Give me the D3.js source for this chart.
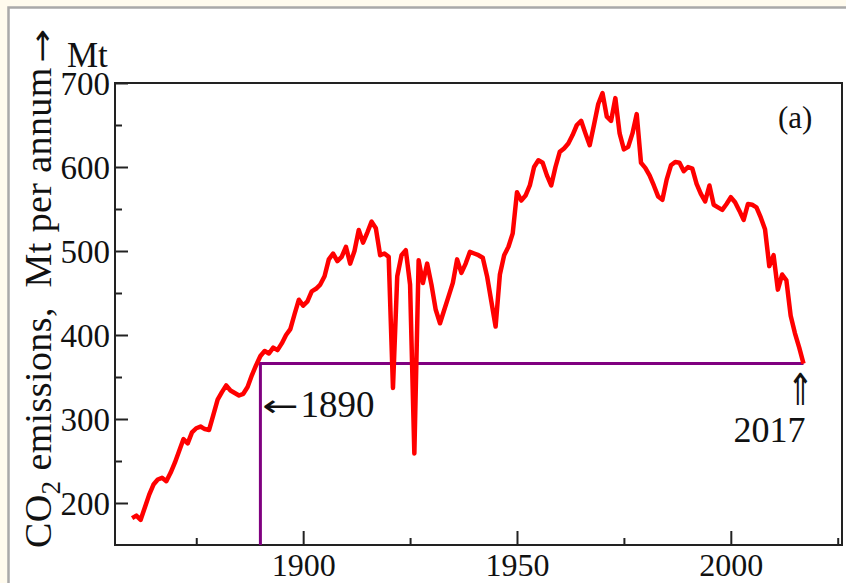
<!DOCTYPE html>
<html lang="en">
    <head>
        <meta charset="utf-8">
        <title>CO2 emissions</title>
        <script src="https://cdn.jsdelivr.net/npm/d3@7/dist/d3.min.js" charset="utf-8"></script>
        <style type="text/css">
            html, body { margin: 0; padding: 0; background: #fffbee; }
            #chart { width: 846px; height: 583px; }
            text { font-family: "Liberation Serif", "Times New Roman", serif; fill: #111; }
            .arrow { font-family: "DejaVu Sans", sans-serif; }
        </style>
    </head>
    <body>
        <div id="chart"></div>
        <script>
            // Data (Mt CO2 per year)
            var years = d3.range(1860, 2018);
            var emissions = [
                182, 185, 180, 195, 210, 222, 228, 230, 226, 236,   // 1860s
                248, 262, 276, 271, 284, 289, 291, 288, 287, 305,   // 1870s
                323, 332, 340, 334, 331, 328, 330, 338, 352, 364,   // 1880s
                375, 381, 378, 385, 382, 390, 400, 407, 425, 442,   // 1890s
                435, 440, 452, 455, 460, 470, 490, 497, 488, 493,   // 1900s
                505, 485, 500, 525, 510, 522, 535, 527, 495, 497,   // 1910s
                493, 337, 470, 495, 501, 460, 259, 489, 462, 485,   // 1920s
                460, 430, 414, 430, 446, 462, 490, 474, 485, 499,   // 1930s
                497, 495, 492, 470, 440, 410, 472, 495, 505, 521,   // 1940s
                570, 560, 566, 578, 600, 608, 605, 590, 578, 600,   // 1950s
                618, 622, 628, 638, 650, 655, 640, 626, 650, 675,   // 1960s
                688, 660, 655, 682, 640, 621, 624, 640, 663, 605,   // 1970s
                599, 590, 578, 565, 561, 585, 602, 606, 605, 595,   // 1980s
                600, 598, 580, 568, 559, 578, 555, 552, 549, 556,   // 1990s
                564, 558, 548, 537, 556, 555, 552, 540, 526, 482,   // 2000s
                495, 454, 472, 465, 423, 402, 385, 366              // 2010s
            ];
            var refYears = [1890, 2017];
            var refValue = 366;
            var xTicks = [1875, 1900, 1925, 1950, 1975, 2000, 2025];
            var xLabels = [1900, 1950, 2000];
            var yTicks = [200, 250, 300, 350, 400, 450, 500, 550, 600, 650, 700];
            var yLabels = [200, 300, 400, 500, 600, 700];

            var data = years.map(function(d, i) { return {year: d, value: emissions[i]}; });

            var W = 846, H = 583;
            var svg = d3.select("#chart").append("svg")
                .attr("width", W)
                .attr("height", H);

            // panel (white with grey top/left edge)
            svg.append("rect").attr("x", 9).attr("y", 8).attr("width", W).attr("height", H)
                .attr("fill", "#fff");
            svg.append("path").attr("d", "M8.5," + H + "V7.5H" + W)
                .attr("fill", "none").attr("stroke", "#a9a9a9").attr("stroke-width", 2.5);

            var plot = {left: 115, right: 842, top: 83, bottom: 545};

            var x = d3.scaleLinear().domain([1856, 2026]).range([plot.left, plot.right]);
            var y = d3.scaleLinear().domain([150, 700]).range([plot.bottom, plot.top]);

            // frame
            svg.append("rect")
                .attr("x", plot.left).attr("y", plot.top)
                .attr("width", plot.right - plot.left).attr("height", plot.bottom - plot.top)
                .attr("fill", "none").attr("stroke", "#222").attr("stroke-width", 2);

            // Eje x
            var xAxis = d3.axisBottom(x)
                .tickValues(xTicks)
                .tickSize(0)
                .tickFormat("");
            var gx = svg.append("g")
                .attr("transform", "translate(0," + plot.bottom + ")")
                .call(xAxis);
            gx.select(".domain").remove();
            gx.selectAll(".tick line")
                .attr("y2", function(d) { return xLabels.indexOf(d) >= 0 ? -14 : -7; })
                .attr("stroke", "#222").attr("stroke-width", 2);
            gx.selectAll(".tick").filter(function(d) { return xLabels.indexOf(d) >= 0; })
                .append("text")
                .attr("y", 31)
                .attr("text-anchor", "middle")
                .style("font-size", "32px")
                .text(function(d) { return d; });

            // Eje y
            var yAxis = d3.axisLeft(y)
                .tickValues(yTicks)
                .tickSize(0)
                .tickFormat("");
            var gy = svg.append("g")
                .attr("transform", "translate(" + plot.left + ",0)")
                .call(yAxis);
            gy.select(".domain").remove();
            gy.selectAll(".tick line")
                .attr("x2", function(d) { return yLabels.indexOf(d) >= 0 ? 13 : 7; })
                .attr("stroke", "#222").attr("stroke-width", 2);
            gy.selectAll(".tick").filter(function(d) { return yLabels.indexOf(d) >= 0; })
                .append("text")
                .attr("x", -5)
                .attr("dy", "0.34em")
                .attr("text-anchor", "end")
                .style("font-size", "33px")
                .text(function(d) { return d; });

            // reference lines
            svg.append("path")
                .attr("d", "M" + x(refYears[0]) + "," + plot.bottom + "V" + y(refValue) + "H" + x(refYears[1]))
                .attr("fill", "none").attr("stroke", "#800080").attr("stroke-width", 3);

            // series
            var line = d3.line()
                .x(function(d) { return x(d.year); })
                .y(function(d) { return y(d.value); })
                .curve(d3.curveLinear);
            svg.append("path")
                .datum(data)
                .attr("d", line)
                .attr("fill", "none")
                .attr("stroke", "#ff0000")
                .attr("stroke-width", 4.5)
                .attr("stroke-linejoin", "round");

            // annotations
            svg.append("text")
                .attr("class", "arrow")
                .attr("transform", "translate(" + (x(refYears[0]) + 2) + ",416) scale(1.45,1)")
                .style("font-size", "30px")
                .text("\u2190");
            svg.append("text")
                .attr("x", x(refYears[0]) + 40).attr("y", 417)
                .style("font-size", "37px")
                .text(refYears[0]);
            svg.append("text")
                .attr("transform", "translate(" + (x(refYears[1]) - 3) + ",405) scale(0.95,1.3)")
                .attr("text-anchor", "middle")
                .attr("class", "arrow")
                .style("font-size", "34px")
                .text("\u21D1");
            svg.append("text")
                .attr("x", x(refYears[1]) + 2).attr("y", 442)
                .attr("text-anchor", "end")
                .style("font-size", "36px")
                .text(refYears[1]);
            svg.append("text")
                .attr("x", 778).attr("y", 128)
                .style("font-size", "31px")
                .text("(a)");
            svg.append("text")
                .attr("x", 67).attr("y", 67)
                .style("font-size", "35px")
                .text("Mt");

            // axis title
            var title = svg.append("text")
                .attr("transform", "translate(51,548) rotate(-90)")
                .style("font-size", "38px")
                .style("letter-spacing", "0.4px");
            title.append("tspan").text("CO");
            title.append("tspan").attr("dy", 9).style("font-size", "27px").text("2");
            title.append("tspan").attr("dy", -9).text(" emissions,\u00A0 Mt per annum");
            svg.append("text")
                .attr("class", "arrow")
                .attr("transform", "translate(52,63) rotate(-90) scale(1.35,1)")
                .style("font-size", "30px")
                .text("\u2192");
        </script>
    </body>
</html>
